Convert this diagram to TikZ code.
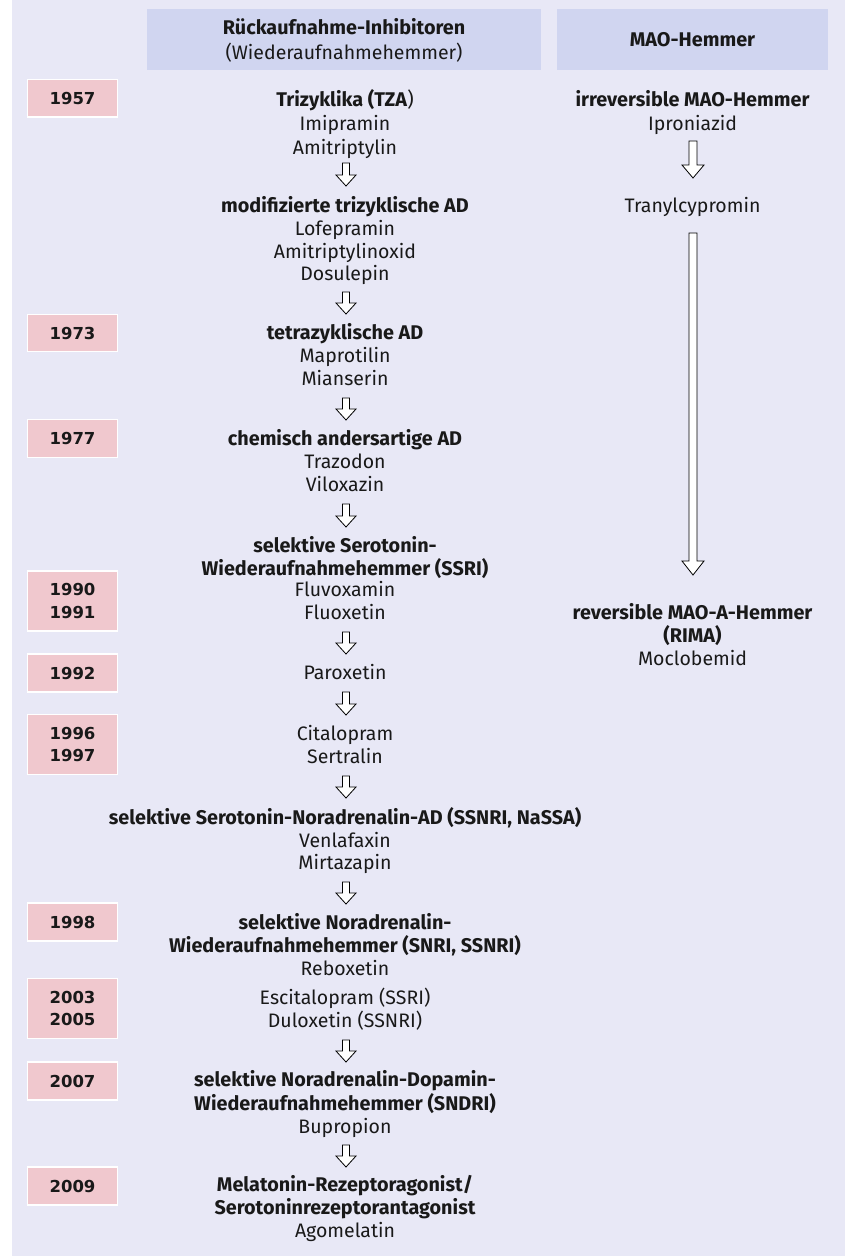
\documentclass[tikz,border=0pt]{standalone}
\usepackage{fontspec}
\setmainfont{Fira Sans}
\newfontfamily\yearfont{DejaVu Sans}
\usetikzlibrary{calc}
\definecolor{bgc}{RGB}{232,232,246}
\definecolor{hdc}{RGB}{208,213,240}
\definecolor{yrc}{RGB}{240,200,206}
\definecolor{txc}{RGB}{25,25,25}
\tikzset{
  bt/.style={anchor=base, inner sep=0pt, font=\fontsize{19.8}{23}\selectfont\bfseries, text=txc},
  rt/.style={anchor=base, inner sep=0pt, font=\fontsize{19.5}{23}\selectfont, text=txc},
  yearbox/.style={fill=yrc, draw=white, line width=1.5pt, minimum width=90pt, align=center,
    inner sep=0pt, font=\yearfont\fontsize{16.5}{22.6}\selectfont\bfseries, text=txc},
  hdbox/.style={fill=hdc, inner sep=0pt, minimum height=61pt},
  harr/.style={fill=white, draw=black, line width=0.8pt, line join=miter},
}
% #1 top coordinate, #2 tip coordinate, #3 half shaft, #4 half head, #5 head length
\newcommand\harrow[5]{\draw[harr] let \p1=(#1), \p2=(#2) in
  (\x1-#3,\y1) -- (\x1-#3,\y2+#5) -- (\x1-#4,\y2+#5) -- (\x2,\y2) --
  (\x1+#4,\y2+#5) -- (\x1+#3,\y2+#5) -- (\x1+#3,\y1) -- cycle;}
\begin{document}
\begin{tikzpicture}[x=1pt,y=-1pt]
\useasboundingbox (0,0) rectangle (845,1256);
\fill[bgc] (12,0) rectangle (845,1256);

% headers
\node[hdbox, minimum width=394pt] (hdL) at (344,39.5) {};
\node[hdbox, minimum width=271pt] (hdR) at (692.5,39.5) {};
\node[bt] (h1) at (344,34.5) {Rückaufnahme-Inhibitoren};
\node[rt] (h2) at (344,59.5) {(Wiederaufnahmehemmer)};
\node[bt] (h3) at (692.5,46) {MAO-Hemmer};

% year boxes
\node[yearbox, minimum height=37.5pt] (y1957) at (72.5,98) {1957};
\node[yearbox, minimum height=37pt] (y1973) at (72.5,333) {1973};
\node[yearbox, minimum height=38pt] (y1977) at (72.5,438.5) {1977};
\node[yearbox, minimum height=60pt] (y1990) at (72.5,601) {1990\\1991};
\node[yearbox, minimum height=38pt] (y1992) at (72.5,673) {1992};
\node[yearbox, minimum height=60pt] (y1996) at (72.5,744.5) {1996\\1997};
\node[yearbox, minimum height=38pt] (y1998) at (72.5,922) {1998};
\node[yearbox, minimum height=60pt] (y2003) at (72.5,1008.5) {2003\\2005};
\node[yearbox, minimum height=38pt] (y2007) at (72.5,1081) {2007};
\node[yearbox, minimum height=38pt] (y2009) at (72.5,1186) {2009};

% left column
\def\cx{345}
\node[bt] (t1) at (\cx,106.5) {Trizyklika (TZA\textmd{)}};
\node[rt] (t2) at (\cx,130.5) {Imipramin};
\node[rt] (t3) at (\cx,154.5) {Amitriptylin};
\node[bt] (t4) at (\cx,212.5) {modifizierte trizyklische AD};
\node[rt] (t5) at (\cx,235.5) {Lofepramin};
\node[rt] (t6) at (\cx,258.5) {Amitriptylinoxid};
\node[rt] (t7) at (\cx,280.5) {Dosulepin};
\node[bt] (t8) at (\cx,339.5) {tetrazyklische AD};
\node[rt] (t9) at (\cx,362.5) {Maprotilin};
\node[rt] (t10) at (\cx,385.5) {Mianserin};
\node[bt] (t11) at (\cx,445.5) {chemisch andersartige AD};
\node[rt] (t12) at (\cx,468.5) {Trazodon};
\node[rt] (t13) at (\cx,491.5) {Viloxazin};
\node[bt] (t14) at (\cx,552.5) {selektive Serotonin-};
\node[bt] (t15) at (\cx,575) {Wiederaufnahmehemmer (SSRI)};
\node[rt] (t16) at (\cx,596.5) {Fluvoxamin};
\node[rt] (t17) at (\cx,619) {Fluoxetin};
\node[rt] (t18) at (\cx,679.5) {Paroxetin};
\node[rt] (t19) at (\cx,740.5) {Citalopram};
\node[rt] (t20) at (\cx,763) {Sertralin};
\node[bt] (t21) at (\cx,824) {selektive Serotonin-Noradrenalin-AD (SSNRI, NaSSA)};
\node[rt] (t22) at (\cx,847) {Venlafaxin};
\node[rt] (t23) at (\cx,869.5) {Mirtazapin};
\node[bt] (t24) at (\cx,929.5) {selektive Noradrenalin-};
\node[bt] (t25) at (\cx,952.5) {Wiederaufnahmehemmer (SNRI, SSNRI)};
\node[rt] (t26) at (\cx,975.5) {Reboxetin};
\node[rt] (t27) at (\cx,1004.5) {Escitalopram (SSRI)};
\node[rt] (t28) at (\cx,1027.5) {Duloxetin (SSNRI)};
\node[bt] (t29) at (\cx,1086.5) {selektive Noradrenalin-Dopamin-};
\node[bt] (t30) at (\cx,1110.5) {Wiederaufnahmehemmer (SNDRI)};
\node[rt] (t31) at (\cx,1133.5) {Bupropion};
\node[bt] (t32) at (\cx,1191.5) {Melatonin-Rezeptoragonist/};
\node[bt] (t33) at (\cx,1214.5) {Serotoninrezeptorantagonist};
\node[rt] (t34) at (\cx,1237.5) {Agomelatin};

% right column
\def\rx{692.5}
\node[bt] (r1) at (\rx,106.5) {irreversible MAO-Hemmer};
\node[rt] (r2) at (\rx,130.5) {Iproniazid};
\node[rt] (r3) at (\rx,212.5) {Tranylcypromin};
\node[bt] (r4) at (\rx,619.5) {reversible MAO-A-Hemmer};
\node[bt] (r5) at (\rx,642.5) {(RIMA)};
\node[rt] (r6) at (\rx,665.5) {Moclobemid};

% arrow end points
\def\ax{346}
\coordinate (a1s) at (\ax,163);  \coordinate (a1e) at (\ax,186);
\coordinate (a2s) at (\ax,292);  \coordinate (a2e) at (\ax,314);
\coordinate (a3s) at (\ax,398);  \coordinate (a3e) at (\ax,420);
\coordinate (a4s) at (\ax,504);  \coordinate (a4e) at (\ax,527);
\coordinate (a5s) at (\ax,632);  \coordinate (a5e) at (\ax,654);
\coordinate (a6s) at (\ax,692);  \coordinate (a6e) at (\ax,715);
\coordinate (a7s) at (\ax,776);  \coordinate (a7e) at (\ax,798);
\coordinate (a8s) at (\ax,882);  \coordinate (a8e) at (\ax,904);
\coordinate (a9s) at (\ax,1040); \coordinate (a9e) at (\ax,1062);
\coordinate (a10s) at (\ax,1145); \coordinate (a10e) at (\ax,1167);
\coordinate (b1s) at (693,141);  \coordinate (b1e) at (693,178);
\coordinate (b2s) at (693,233);  \coordinate (b2e) at (693,575);

\foreach \i in {1,...,10}{\harrow{a\i s}{a\i e}{3.5pt}{10pt}{11pt}}
\harrow{b1s}{b1e}{4pt}{11pt}{13pt}
\harrow{b2s}{b2e}{4pt}{11pt}{14pt}
\end{tikzpicture}
\end{document}
